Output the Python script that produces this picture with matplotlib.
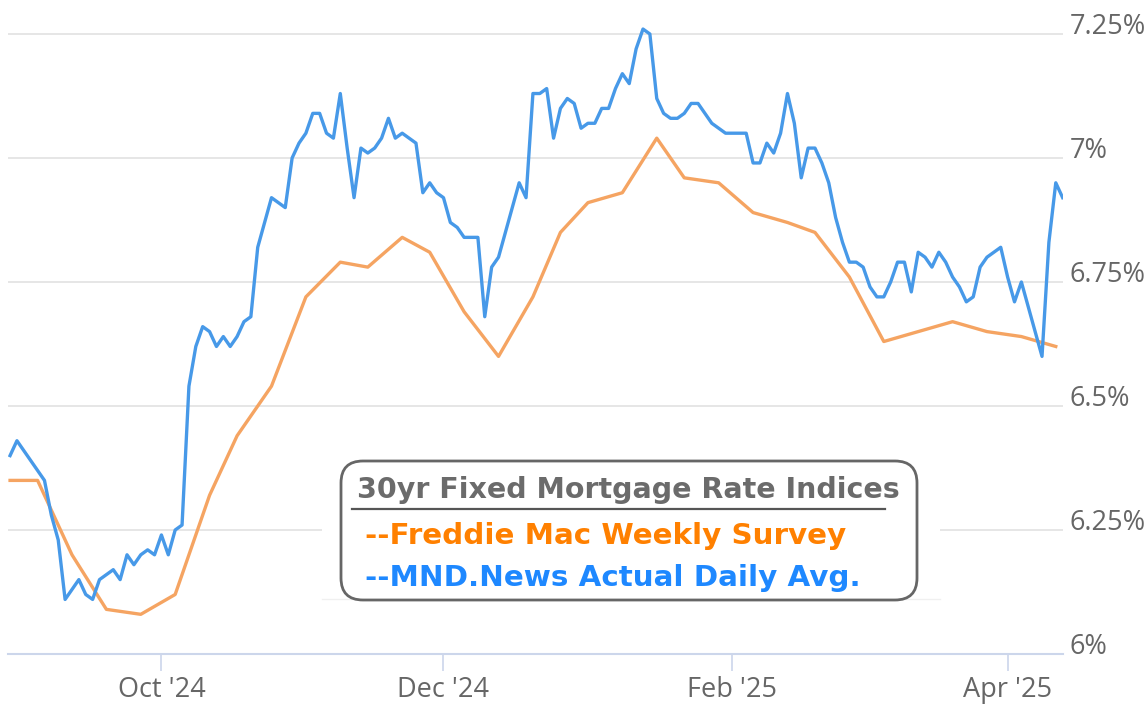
import matplotlib.pyplot as plt
import numpy as np
import pandas as pd
from matplotlib.patches import FancyBboxPatch, Rectangle

# Trading days of the daily index (bond market holidays left out)
START = "2024-08-29"
END = "2025-04-11"
HOLIDAYS = ["2024-09-02", "2024-10-14", "2024-11-11", "2024-11-28",
            "2024-12-25", "2025-01-01", "2025-01-20", "2025-02-17"]

# MND.News actual daily average, one value per trading day
mnd_rates = [
    6.40, 6.43, 6.41, 6.39, 6.37, 6.35, 6.28, 6.23, 6.11, 6.13,
    6.15, 6.12, 6.11, 6.15, 6.16, 6.17, 6.15, 6.20, 6.18, 6.20,
    6.21, 6.20, 6.24, 6.20, 6.25, 6.26, 6.54, 6.62, 6.66, 6.65,
    6.62, 6.64, 6.62, 6.64, 6.67, 6.68, 6.82, 6.87, 6.92, 6.91,
    6.90, 7.00, 7.03, 7.05, 7.09, 7.09, 7.05, 7.04, 7.13, 7.02,
    6.92, 7.02, 7.01, 7.02, 7.04, 7.08, 7.04, 7.05, 7.04, 7.03,
    6.93, 6.95, 6.93, 6.92, 6.87, 6.86, 6.84, 6.84, 6.84, 6.68,
    6.78, 6.80, 6.85, 6.90, 6.95, 6.92, 7.13, 7.13, 7.14, 7.04,
    7.10, 7.12, 7.11, 7.06, 7.07, 7.07, 7.10, 7.10, 7.14, 7.17,
    7.15, 7.22, 7.26, 7.25, 7.12, 7.09, 7.08, 7.08, 7.09, 7.11,
    7.11, 7.09, 7.07, 7.06, 7.05, 7.05, 7.05, 7.05, 6.99, 6.99,
    7.03, 7.01, 7.05, 7.13, 7.07, 6.96, 7.02, 7.02, 6.99, 6.95,
    6.88, 6.83, 6.79, 6.79, 6.78, 6.74, 6.72, 6.72, 6.75, 6.79,
    6.79, 6.73, 6.81, 6.80, 6.78, 6.81, 6.79, 6.76, 6.74, 6.71,
    6.72, 6.78, 6.80, 6.81, 6.82, 6.76, 6.71, 6.75, 6.70, 6.65,
    6.60, 6.83, 6.95, 6.92,
]

# Freddie Mac weekly survey
freddie_dates = [
    "2024-08-29", "2024-09-05", "2024-09-12", "2024-09-19", "2024-09-26",
    "2024-10-03", "2024-10-10", "2024-10-17", "2024-10-24", "2024-10-31",
    "2024-11-07", "2024-11-14", "2024-11-21", "2024-11-27", "2024-12-05",
    "2024-12-12", "2024-12-19", "2024-12-26", "2025-01-02", "2025-01-09",
    "2025-01-16", "2025-01-23", "2025-01-30", "2025-02-06", "2025-02-13",
    "2025-02-20", "2025-02-27", "2025-03-06", "2025-03-13", "2025-03-20",
    "2025-03-27", "2025-04-03", "2025-04-10",
]
freddie_rates = [
    6.35, 6.35, 6.20, 6.09, 6.08, 6.12, 6.32, 6.44, 6.54, 6.72,
    6.79, 6.78, 6.84, 6.81, 6.69, 6.60, 6.72, 6.85, 6.91, 6.93,
    7.04, 6.96, 6.95, 6.89, 6.87, 6.85, 6.76, 6.63, 6.65, 6.67,
    6.65, 6.64, 6.62,
]

y_ticks = [6.0, 6.25, 6.5, 6.75, 7.0, 7.25]
y_labels = ["6%", "6.25%", "6.5%", "6.75%", "7%", "7.25%"]
x_tick_dates = ["2024-10-01", "2024-12-01", "2025-02-01", "2025-04-01"]
x_labels = ["Oct '24", "Dec '24", "Feb '25", "Apr '25"]

BLUE = "#4799e8"
ORANGE = "#f5a462"
GRID = "#e6e6e6"
AXIS = "#ccd6eb"
LABEL = "#666666"

# ordinal x axis: every trading day gets the same width
days = pd.bdate_range(START, END, freq="C", holidays=HOLIDAYS)
mnd_x = np.arange(len(days))
freddie_x = days.get_indexer(pd.to_datetime(freddie_dates))
tick_x = days.searchsorted(pd.to_datetime(x_tick_dates))

W, H = 1147, 706
fig = plt.figure(figsize=(W / 100, H / 100), dpi=100)
ax = fig.add_axes([8 / W, 52 / H, 1055 / W, 650 / H])

for v in y_ticks[1:]:
    ax.axhline(v, color=GRID, lw=1.4, zorder=0)

ax.plot(freddie_x, freddie_rates, color=ORANGE, lw=2.4, zorder=2,
        solid_joinstyle="round")
ax.plot(mnd_x, mnd_rates, color=BLUE, lw=2.4, zorder=3,
        solid_joinstyle="round")

ax.set_xlim(-0.3, 153.05)
ax.set_ylim(6.0, 6.0 + 650 / 496)

for side in ["top", "left", "right"]:
    ax.spines[side].set_visible(False)
ax.spines["bottom"].set_color(AXIS)
ax.spines["bottom"].set_linewidth(1.5)

ax.set_xticks(tick_x, x_labels)
ax.tick_params(axis="x", length=12, width=1.2, color=AXIS, pad=4,
               labelsize=19.5, labelcolor=LABEL)
ax.yaxis.tick_right()
ax.set_yticks(y_ticks, y_labels)
ax.tick_params(axis="y", length=0, pad=5, labelsize=19.5, labelcolor=LABEL)
for lab in ax.get_yticklabels():
    lab.set_verticalalignment("baseline")
for lab in ax.get_xticklabels() + ax.get_yticklabels():
    lab.set_fontfamily("Open Sans")

# legend box drawn in pixel units on an overlay
ov = fig.add_axes([0, 0, 1, 1])
ov.set_xlim(0, W)
ov.set_ylim(H, 0)
ov.axis("off")
ov.add_patch(Rectangle((322, 452), 618, 146, fc="white", ec="none", zorder=1))
ov.plot([322, 940], [599, 599], color="#f0f0f0", lw=1.0, zorder=1)
ov.add_patch(FancyBboxPatch((341, 461), 576, 139,
                            boxstyle="round,pad=0,rounding_size=22",
                            fc="white", ec="#666666", lw=2, zorder=2))
ov.text(628, 498, "30yr Fixed Mortgage Rate Indices", ha="center",
        va="baseline", fontsize=20.5, fontweight="bold", color="#6b6b6b",
        zorder=3)
ov.plot([352, 885], [509, 509], color="#555555", lw=1.6, zorder=3)
ov.text(365, 544, "--Freddie Mac Weekly Survey", ha="left", va="baseline",
        fontsize=21.2, fontweight="bold", color="#ff8000", zorder=3)
ov.text(365, 586, "--MND.News Actual Daily Avg.", ha="left", va="baseline",
        fontsize=21.2, fontweight="bold", color="#1e88ff", zorder=3)

fig.savefig("out.png", dpi=100)
